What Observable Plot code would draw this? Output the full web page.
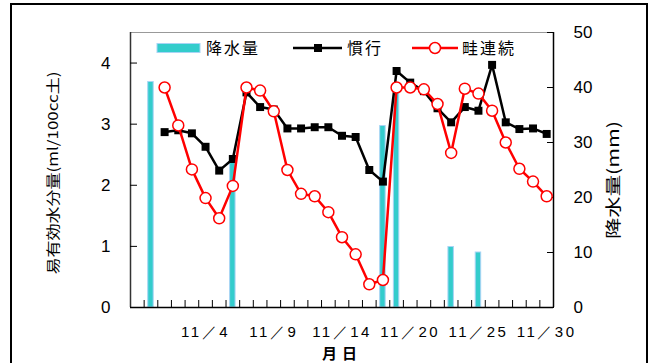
<!DOCTYPE html>
<html>
<head>
<meta charset="utf-8">
<script src="https://cdn.jsdelivr.net/npm/d3@7"></script>
<script src="https://cdn.jsdelivr.net/npm/@observablehq/plot@0.6"></script>
<style>
  html, body { margin: 0; padding: 0; background: #fff; }
  #wrap { position: relative; width: 648px; height: 363px; overflow: hidden; background: #fff; }
  #border { position: absolute; left: 10px; top: 3px; width: 634px; height: 400px; border: 2px solid #000; box-sizing: content-box; }
  #chart { position: absolute; left: 0; top: 0; }
  #legend { position: absolute; left: 0; top: 0; pointer-events: none; }
</style>
</head>
<body>
<div id="wrap">
  <div id="border"></div>
  <div id="chart"></div>
  <svg id="legend" width="648" height="363"></svg>
</div>
<script>
// ---- data ----
const seriesNames = ["降水量", "慣行", "畦連続"];
const yLabel = "易有効水分量(ml/100cc土)";
const y2Label = "降水量(mm)";
const xLabel = "月日";

const yTicks = [0, 1, 2, 3, 4];
const rainTicks = [0, 10, 20, 30, 40, 50];
const xTickIndex = [5, 10, 15, 20, 25, 30];
const xTickLabels = ["11/4", "11/9", "11/14", "11/20", "11/25", "11/30"];

const seriesDays = [2,3,4,5,6,7,8,9,10,11,12,13,14,15,16,17,18,19,20,21,22,23,24,25,26,27,28,29,30];
const conventional = [2.87, 2.90, 2.85, 2.63, 2.24, 2.43, 3.52, 3.28, 3.24, 2.93, 2.93, 2.95, 2.95, 2.81, 2.79, 2.25, 2.06, 3.87, 3.68, 3.54, 3.26, 3.03, 3.28, 3.22, 3.97, 3.03, 2.92, 2.93, 2.84];
const ridge = [3.60, 2.98, 2.26, 1.79, 1.46, 1.99, 3.60, 3.55, 3.21, 2.25, 1.86, 1.82, 1.56, 1.15, 0.87, 0.38, 0.45, 3.60, 3.60, 3.57, 3.33, 2.53, 3.58, 3.50, 3.22, 2.70, 2.27, 2.06, 1.82];

const rainDays = [1, 7, 18, 19, 23, 25];
const rainMm = [41, 27, 33, 40, 11, 10];

const nDays = 31;
const yMax = 4.5, rainMax = 50;
const k = yMax / rainMax;

// ---- tables ----
const convData = seriesDays.map((d, i) => ({day: d, v: conventional[i]}));
const ridgeData = seriesDays.map((d, i) => ({day: d, v: ridge[i]}));
const rainData = rainDays.map((d, i) => ({day: d, mm: rainMm[i]}));
const boundaries = d3.range(1, nDays).map(i => i - 0.5);

const latin = "'Liberation Sans', Arial, sans-serif";
const cjk = "'Noto Sans CJK JP', sans-serif";

const chart = Plot.plot({
  width: 648, height: 363,
  marginLeft: 130, marginRight: 95, marginTop: 32, marginBottom: 56,
  x: {domain: [-0.5, nDays - 0.5]},
  y: {domain: [0, yMax]},
  style: {fontFamily: latin, fontSize: "16px", color: "#000", background: "transparent"},
  marks: [
    Plot.rectY(rainData, {x1: d => d.day - 0.2, x2: d => d.day + 0.2, y1: 0, y2: d => d.mm * k,
      fill: "#33cccc", stroke: "#a8d4f5", strokeWidth: 1}),
    Plot.ruleY([yMax], {stroke: "#999", strokeWidth: 1}),
    Plot.ruleX([-0.5], {stroke: "#333", strokeWidth: 1.5}),
    Plot.ruleX([nDays - 0.5], {stroke: "#000", strokeWidth: 1.5}),
    Plot.ruleY([0], {stroke: "#000", strokeWidth: 1.5}),
    Plot.axisX(boundaries, {tickSize: -7, tickFormat: () => "", label: null, stroke: "#000"}),
    Plot.axisX(xTickIndex, {tickSize: 0, tickPadding: 19, fontSize: 15,
      tickFormat: d => xTickLabels[xTickIndex.indexOf(d)].replace("/", "／"), label: null}),
    Plot.axisY(yTicks, {anchor: "left", tickSize: -7, tickFormat: () => "", label: null}),
    Plot.axisY(yTicks, {anchor: "left", tickSize: 0, tickPadding: 20, fontSize: 17, tickFormat: d => String(d), label: null}),
    Plot.axisY(rainTicks.map(t => t * k), {anchor: "right", tickSize: -7, tickFormat: () => "", label: null}),
    Plot.axisY(rainTicks.map(t => t * k), {anchor: "right", tickSize: 0, tickPadding: 20, fontSize: 17,
      tickFormat: d => String(Math.round(d / k)), label: null}),
    Plot.line(convData, {x: "day", y: "v", stroke: "#000", strokeWidth: 2.5}),
    Plot.dot(convData, {x: "day", y: "v", symbol: "square", r: 4.5, fill: "#000"}),
    Plot.line(ridgeData, {x: "day", y: "v", stroke: "#ff0000", strokeWidth: 2.5}),
    Plot.dot(ridgeData, {x: "day", y: "v", r: 5.5, fill: "#fff", stroke: "#ff0000", strokeWidth: 1.5}),
    Plot.text([yLabel], {text: d => d, frameAnchor: "left", dx: -77, dy: 3, rotate: -90, fontSize: 14, fontFamily: cjk}),
    Plot.text([y2Label], {text: d => d, frameAnchor: "right", dx: 60, dy: 10, rotate: -90, fontSize: 16, fontFamily: cjk}),
    Plot.text([xLabel], {text: d => d, frameAnchor: "bottom", dy: 51, fontSize: 15, fontWeight: "bold", fontFamily: cjk})
  ]
});
document.getElementById("chart").appendChild(chart);

// styling tweaks
function stretch(el, len) {
  el.setAttribute("textLength", len);
  el.setAttribute("lengthAdjust", "spacingAndGlyphs");
  el.setAttribute("text-anchor", "start");
  el.setAttribute("x", -len / 2);
}
d3.select(chart).selectAll("text").each(function() {
  const t = this.textContent;
  if (t === yLabel) stretch(this, 203);
  if (t === y2Label) stretch(this, 118);
  if (t === xLabel) { this.setAttribute("letter-spacing", "5"); }
  if (t.includes("／")) { this.setAttribute("letter-spacing", "2.5"); this.style.fontFamily = latin; }
});

// legend
const lg = d3.select("#legend");
const ly = 48;
lg.append("rect").attr("x", 157).attr("y", ly - 4.5).attr("width", 43).attr("height", 9)
  .attr("fill", "#33cccc").attr("stroke", "#a8d4f5").attr("stroke-width", 1);
lg.append("line").attr("x1", 293).attr("x2", 342).attr("y1", ly).attr("y2", ly).attr("stroke", "#000").attr("stroke-width", 2.5);
lg.append("rect").attr("x", 314).attr("y", ly - 4).attr("width", 8).attr("height", 8).attr("fill", "#000");
lg.append("line").attr("x1", 412).attr("x2", 458).attr("y1", ly).attr("y2", ly).attr("stroke", "#ff0000").attr("stroke-width", 2.5);
lg.append("circle").attr("cx", 435).attr("cy", ly).attr("r", 5.5).attr("fill", "#fff").attr("stroke", "#ff0000").attr("stroke-width", 1.5);
[[206, seriesNames[0]], [347, seriesNames[1]], [462, seriesNames[2]]].forEach(([x, t]) => {
  lg.append("text").attr("x", x).attr("y", ly).attr("dy", "0.36em").attr("font-size", 16)
    .attr("letter-spacing", 2).attr("font-family", cjk).attr("fill", "#000").text(t);
});
</script>
</body>
</html>
